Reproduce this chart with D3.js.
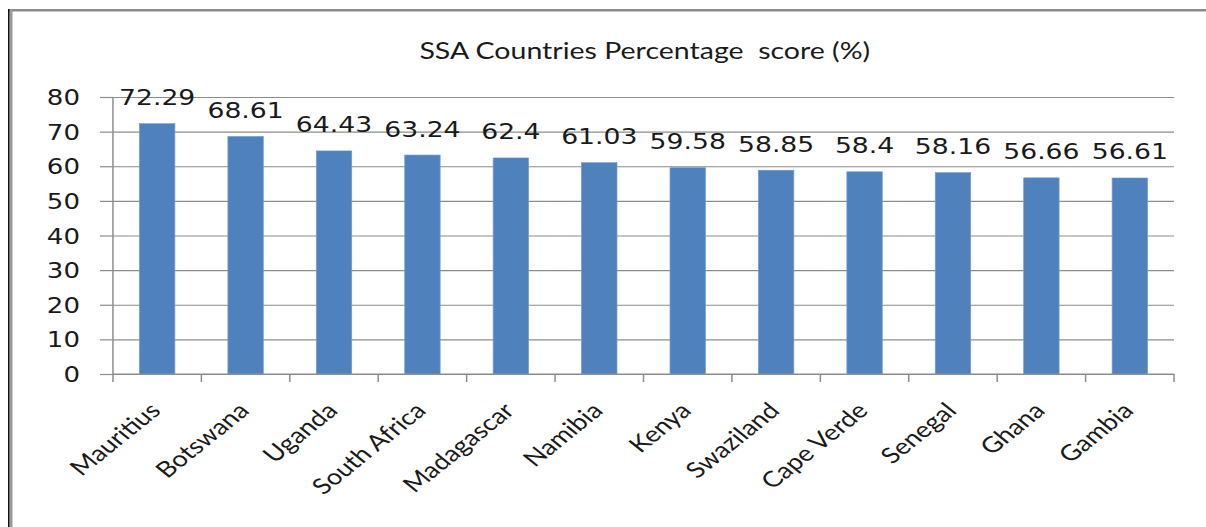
<!DOCTYPE html>
<html>
<head>
<meta charset="utf-8">
<script src="https://cdn.jsdelivr.net/npm/d3@7"></script>
<style>
  html, body { margin: 0; padding: 0; background: #fff; }
  svg { display: block; }
</style>
</head>
<body>
<div id="chart"></div>
<script>
// Data
const countries = ['Mauritius', 'Botswana', 'Uganda', 'South Africa', 'Madagascar', 'Namibia',
                   'Kenya', 'Swaziland', 'Cape Verde', 'Senegal', 'Ghana', 'Gambia'];
const scores = [72.29, 68.61, 64.43, 63.24, 62.4, 61.03, 59.58, 58.85, 58.4, 58.16, 56.66, 56.61];
const yTicks = [0, 10, 20, 30, 40, 50, 60, 70, 80];
const title = 'SSA Countries Percentage\u00a0\u00a0score (%)';

const width = 1206, height = 527;
const stretch = 1.24; // the original picture is stretched horizontally
const vbWidth = width / stretch;
const margin = { top: 97, right: vbWidth - 946.8, bottom: height - 374, left: 91.1 };

const data = countries.map((c, i) => ({ country: c, score: scores[i] }));

const outer = d3.select('#chart').append('svg').attr('width', width).attr('height', height);

// Frame (top + left edge of the chart box)
outer.append('rect').attr('x', 8).attr('y', 9).attr('width', width - 8).attr('height', 2.5).attr('fill', '#8a8a8a');
outer.append('rect').attr('x', 9.5).attr('y', 9).attr('width', 3).attr('height', height - 9).attr('fill', '#9a9a9a');
outer.append('rect').attr('x', 8).attr('y', 9).attr('width', 1.5).attr('height', height - 9).attr('fill', '#111');

const svg = outer.append('svg')
    .attr('width', width).attr('height', height)
    .attr('viewBox', [0, 0, vbWidth, height])
    .attr('preserveAspectRatio', 'none');

// Scales
const xScale = d3.scaleBand(countries, [margin.left, vbWidth - margin.right])
                 .paddingInner(0.6).paddingOuter(0.3);
const yScale = d3.scaleLinear([0, 80], [height - margin.bottom, margin.top]);

// Gridlines + y axis
const yAxis = svg.append('g').attr('transform', `translate(${margin.left}, 0)`)
    .call(d3.axisLeft(yScale).tickValues(yTicks).tickSize(10.5).tickPadding(0));
yAxis.select('.domain').remove();
yAxis.selectAll('.tick line').attr('stroke', '#8c8c8c').attr('stroke-width', 1.2);
yAxis.selectAll('.tick').append('line')
    .attr('x1', 0).attr('x2', vbWidth - margin.right - margin.left)
    .attr('stroke', '#8c8c8c').attr('stroke-width', 1.2);
yAxis.selectAll('.tick text')
    .attr('font-family', '"DejaVu Sans", Verdana, sans-serif')
    .attr('font-size', 21)
    .attr('fill', '#1a1a1a')
    .attr('x', -26.6)
    .attr('dy', '0.36em');

svg.append('line')
    .attr('x1', margin.left).attr('x2', margin.left)
    .attr('y1', margin.top).attr('y2', height - margin.bottom)
    .attr('stroke', '#8c8c8c').attr('stroke-width', 1.2);

// Bars
svg.append('g').selectAll('rect').data(data)
    .join('rect')
    .attr('x', d => xScale(d.country))
    .attr('y', d => yScale(d.score))
    .attr('width', xScale.bandwidth())
    .attr('height', d => yScale(0) - yScale(d.score))
    .attr('fill', '#4f81bd')
    .attr('stroke', '#6f9bd0')
    .attr('stroke-width', 0.6);

// x axis line and boundary ticks
const step = xScale.step();
const x0 = xScale(countries[0]) - step * xScale.paddingOuter();
svg.append('line')
    .attr('x1', margin.left).attr('x2', vbWidth - margin.right)
    .attr('y1', yScale(0)).attr('y2', yScale(0))
    .attr('stroke', '#8c8c8c').attr('stroke-width', 1.2);
svg.append('g').selectAll('line').data(d3.range(countries.length + 1))
    .join('line')
    .attr('x1', i => x0 + i * step).attr('x2', i => x0 + i * step)
    .attr('y1', yScale(0)).attr('y2', yScale(0) + 8)
    .attr('stroke', '#8c8c8c').attr('stroke-width', 1.2);

// Value labels
svg.append('g').selectAll('text').data(data)
    .join('text')
    .attr('x', d => xScale(d.country) + xScale.bandwidth() / 2)
    .attr('y', d => yScale(d.score) - 18.5)
    .attr('text-anchor', 'middle')
    .attr('font-family', '"DejaVu Sans", Verdana, sans-serif')
    .attr('font-size', 21.5)
    .attr('fill', '#1a1a1a')
    .text(d => String(d.score));

// Category labels
svg.append('g').selectAll('text').data(countries)
    .join('text')
    .attr('transform', c => `translate(${xScale(c) + xScale.bandwidth() / 2 + 4}, ${yScale(0) + 38}) rotate(-45)`)
    .attr('text-anchor', 'end')
    .attr('font-family', 'Lato, "Open Sans", sans-serif')
    .attr('font-size', 22)
    .attr('fill', '#1a1a1a')
    .text(c => c);

// Title
svg.append('text')
    .attr('x', 520).attr('y', 59)
    .attr('text-anchor', 'middle')
    .attr('font-family', 'Lato, "Open Sans", sans-serif')
    .attr('font-size', 23)
    .attr('fill', '#1a1a1a')
    .text(title);
</script>
</body>
</html>
